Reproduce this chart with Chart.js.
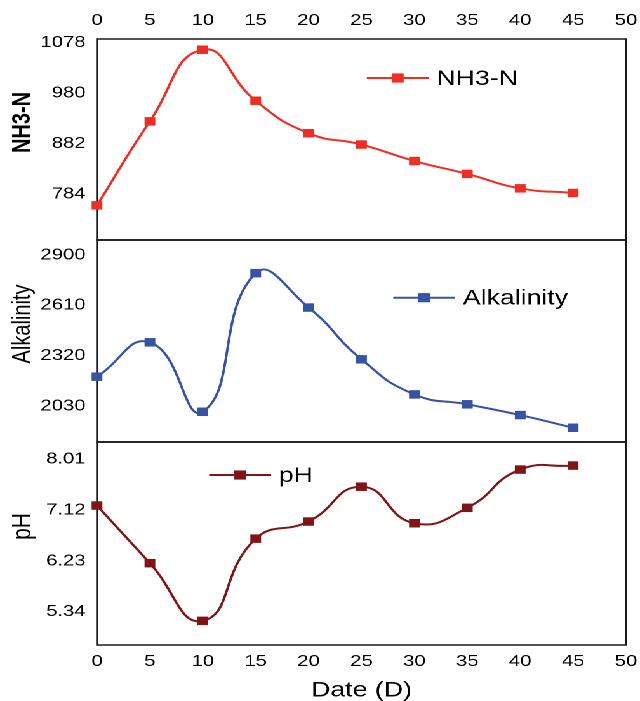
<!DOCTYPE html>
<html>
<head>
<meta charset="utf-8">
<script src="https://cdn.jsdelivr.net/npm/chart.js@4.4.1/dist/chart.umd.min.js"></script>
<style>
  body { margin: 0; background: #fff; overflow: hidden; }
  /* the reference picture is stretched sideways, so the whole drawing is too */
  #wrap { position: relative; width: 504px; height: 701px; transform: scaleX(1.2698); transform-origin: 0 0; }
  .box { position: absolute; left: 0; width: 504px; }
</style>
</head>
<body>
<div id="wrap">
  <div class="box" style="top:0;height:241px"><canvas id="c1"></canvas></div>
  <div class="box" style="top:239px;height:205px"><canvas id="c2"></canvas></div>
  <div class="box" style="top:441px;height:260px"><canvas id="c3"></canvas></div>
</div>
<script>
const days = [0, 5, 10, 15, 20, 25, 30, 35, 40, 45];
const nh3n = [762, 925, 1064, 965, 902, 880, 848, 823, 795, 786];
const alkalinity = [2199, 2397, 1997, 2795, 2597, 2299, 2097, 2040, 1978, 1905];
const ph = [7.20, 6.19, 5.18, 6.62, 6.92, 7.53, 6.89, 7.16, 7.83, 7.90];

const nh3Ticks = [784, 882, 980, 1078];
const alkTicks = [2030, 2320, 2610, 2900];
const phTicks = [5.34, 6.23, 7.12, 8.01];

const FONT = "'Liberation Sans', Arial, sans-serif";
const tickFont = { family: FONT, size: 16 };

const panelPlugin = {
  id: 'panel',
  beforeDatasetsDraw(chart) {
    const { ctx, chartArea: a } = chart;
    ctx.save();
    ctx.strokeStyle = '#1a1a1a';
    ctx.lineWidth = 1.5;
    ctx.strokeRect(a.left, a.top, a.right - a.left, a.bottom - a.top);
    ctx.restore();
  },
  afterDraw(chart, args, opts) {
    const { ctx, chartArea: a, scales } = chart;
    const ds = chart.data.datasets[0];
    // side title
    ctx.save();
    ctx.fillStyle = '#000';
    ctx.font = opts.titleFont;
    ctx.translate(18, (a.top + a.bottom) / 2 - 17);
    ctx.rotate(-Math.PI / 2);
    ctx.textAlign = 'center';
    ctx.textBaseline = 'middle';
    ctx.fillText(opts.title, 0, 0);
    ctx.restore();
    // legend: line + square + label
    const x0 = scales.x.getPixelForValue(opts.legendX);
    const x1 = scales.x.getPixelForValue(opts.legendX + 5.86);
    const y = a.top + opts.legendY;
    ctx.save();
    ctx.strokeStyle = ds.borderColor;
    ctx.lineWidth = 2;
    ctx.beginPath();
    ctx.moveTo(x0, y);
    ctx.lineTo(x1, y);
    ctx.stroke();
    ctx.fillStyle = ds.borderColor;
    ctx.fillRect((x0 + x1) / 2 - 4.6, y - 4.6, 9.2, 9.2);
    ctx.fillStyle = '#000';
    ctx.font = '21px ' + FONT;
    ctx.textAlign = 'left';
    ctx.textBaseline = 'middle';
    ctx.fillText(ds.label, x1 + 6, y + 1);
    ctx.restore();
  }
};

function makeChart(id, cfg) {
  const xAxis = {
    type: 'linear',
    min: 0,
    max: 50,
    display: cfg.xPos !== 'none',
    position: cfg.xPos === 'top' ? 'top' : 'bottom',
    grid: { display: false, drawTicks: false },
    border: { display: false },
    ticks: { stepSize: 5, padding: cfg.xPos === 'top' ? 9 : 7, font: tickFont, color: '#000', maxRotation: 0 },
    title: {
      display: !!cfg.xTitle,
      text: cfg.xTitle || '',
      color: '#000',
      font: { family: FONT, size: 21, lineHeight: 1 },
      padding: { top: 0, bottom: 0 }
    },
    afterFit(s) {
      s.height = cfg.xHeight || 0;
      s.paddingLeft = 0;
      s.paddingRight = 0;
    }
  };
  return new Chart(document.getElementById(id), {
    type: 'line',
    data: {
      datasets: [{
        label: cfg.label,
        data: days.map((d, i) => ({ x: d, y: cfg.values[i] })),
        borderColor: cfg.color,
        backgroundColor: cfg.color,
        borderWidth: 2,
        tension: 0.5,
        pointStyle: 'rect',
        pointRadius: 6,
        pointBorderWidth: 0,
        pointBackgroundColor: cfg.color,
        clip: false
      }]
    },
    options: {
      responsive: true,
      maintainAspectRatio: false,
      animation: false,
      devicePixelRatio: 2,
      layout: {
        autoPadding: false,
        padding: { left: 0, right: 11, top: cfg.padTop, bottom: cfg.padBottom }
      },
      scales: {
        x: xAxis,
        y: {
          min: cfg.min,
          max: cfg.max,
          grid: { display: false, drawTicks: false },
          border: { display: false },
          afterBuildTicks(s) { s.ticks = cfg.ticks.map(v => ({ value: v })); },
          ticks: {
            padding: 9,
            font: tickFont,
            color: '#000',
            callback: v => Number(v).toFixed(cfg.decimals)
          },
          afterFit(s) {
            s.width = 76.4;
            s.paddingTop = 0;
            s.paddingBottom = 0;
          }
        }
      },
      plugins: {
        legend: { display: false },
        tooltip: { enabled: false },
        panel: {
          title: cfg.title,
          titleFont: cfg.titleFont,
          legendX: cfg.legendX,
          legendY: cfg.legendY
        }
      }
    },
    plugins: [panelPlugin]
  });
}

makeChart('c1', {
  label: 'NH3-N', values: nh3n, color: '#EE2E24', ticks: nh3Ticks, decimals: 0,
  min: 694.7, max: 1084.8, xPos: 'top', xHeight: 39, padTop: 0, padBottom: 1,
  title: 'NH3-N', titleFont: 'bold 20px ' + FONT, legendX: 25.5, legendY: 39
});

makeChart('c2', {
  label: 'Alkalinity', values: alkalinity, color: '#3953A4', ticks: alkTicks, decimals: 0,
  min: 1823, max: 2986, xPos: 'none', padTop: 1, padBottom: 2,
  title: 'Alkalinity', titleFont: '20px ' + FONT, legendX: 28.0, legendY: 57.7
});

makeChart('c3', {
  label: 'pH', values: ph, color: '#801517', ticks: phTicks, decimals: 2,
  min: 4.757, max: 8.313, xPos: 'bottom', xHeight: 56, xTitle: 'Date (D)', padTop: 1, padBottom: 0,
  title: 'pH', titleFont: '21px ' + FONT, legendX: 10.6, legendY: 33
});
</script>
</body>
</html>
